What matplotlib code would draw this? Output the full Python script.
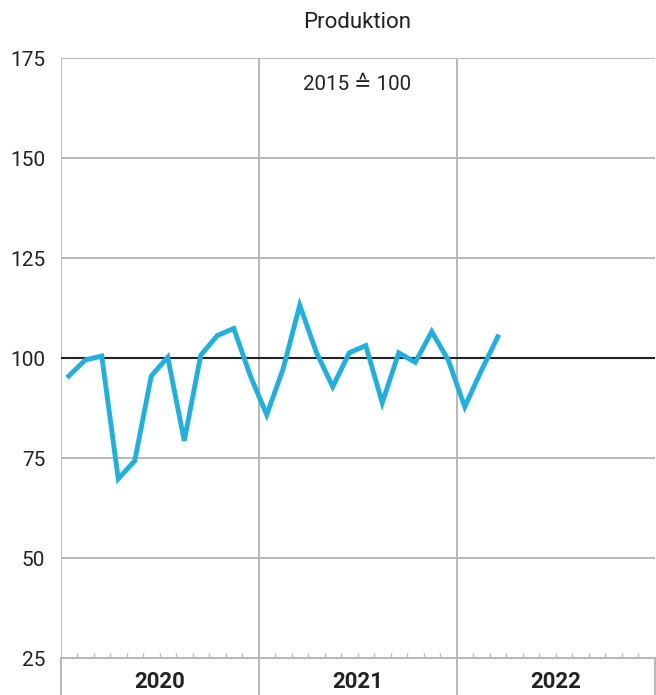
import matplotlib.pyplot as plt
import numpy as np

# monthly production index, 2015 = 100
months = np.arange(27) + 0.5
produktion = [95.5, 99.5, 100.5, 69.8, 74.3, 95.5, 100.2, 79.3, 100.7, 105.6, 107.4, 95.6,
              85.8, 97.4, 113.2, 101.5, 92.8, 101.3, 103.1, 88.8, 101.3, 98.9, 106.6, 99.5,
              87.8, 96.8, 105.3]
years = ["2020", "2021", "2022"]
yticks = [25, 50, 75, 100, 125, 150, 175]

plt.rcParams['font.family'] = ['Roboto', 'DejaVu Sans']

fig = plt.figure(figsize=(6.56, 6.95), dpi=100)
ax = fig.add_axes([60.5 / 656, 37 / 695, 594 / 656, 600 / 695])

grey = '#b8b8b8'
for v in yticks[1:]:
    ax.axhline(v, color=grey, lw=1.4, zorder=1)
ax.axhline(100, color='#222222', lw=1.5, zorder=2)

ax.plot(months, produktion, color='#1eb0e1', lw=3.5, solid_joinstyle='miter', zorder=3)

ax.set_xlim(0, 36)
ax.set_ylim(25, 175)

# year separators reaching below the axis
ax.set_xticks([0, 12, 24, 36])
ax.set_xticklabels([])
ax.set_xticks(np.arange(1, 36), minor=True)
ax.tick_params(axis='x', which='major', direction='out', length=37, width=1.4, color=grey)
ax.tick_params(axis='x', which='minor', direction='in', length=3.5, width=1, color=grey)
for x in [0, 12, 24]:
    ax.axvline(x, color=grey, lw=1.4, zorder=1)
for i, y in enumerate(years):
    ax.text(i * 12 + 6, -0.04, y, transform=ax.get_xaxis_transform(), ha='center', va='center',
            fontsize=16, fontweight='bold', color='#222222')

ax.set_yticks(yticks)
ax.tick_params(axis='y', length=0, pad=11, labelsize=15, labelcolor='#222222')

for s in ['top', 'right', 'left']:
    ax.spines[s].set_visible(False)
ax.spines['bottom'].set_color(grey)
ax.spines['bottom'].set_linewidth(1.4)

ax.text(0.5, 0.956, '2015 ≙ 100', transform=ax.transAxes, ha='center', va='center',
        fontsize=14.8, color='#222222')
fig.text(357 / 656, 1 - 23 / 695, 'Produktion', ha='center', va='center', fontsize=16, color='#222222')

fig.savefig('out.png', dpi=100)
